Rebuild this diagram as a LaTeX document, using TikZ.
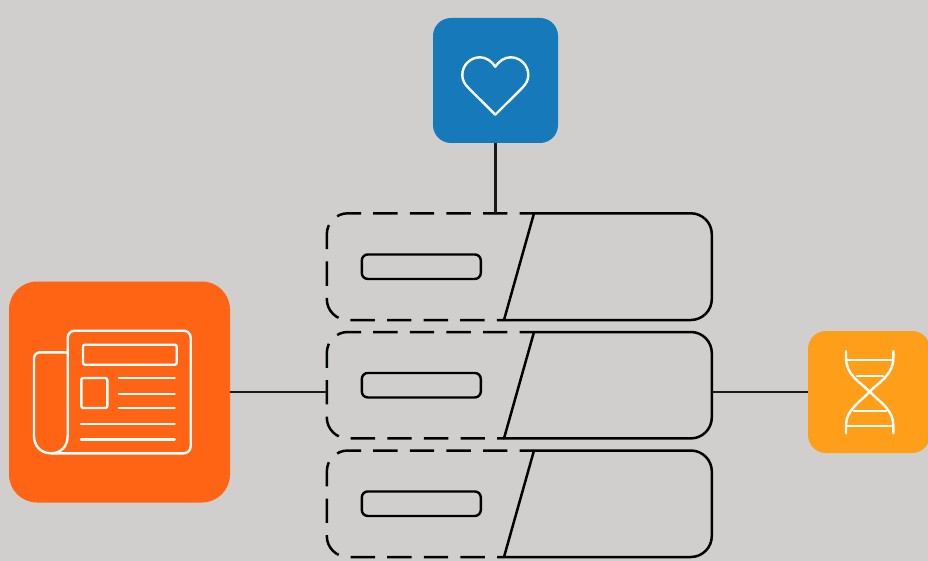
\documentclass[tikz,border=0pt]{standalone}
\usepackage{xcolor}
\definecolor{canvasgray}{HTML}{D0CFCD}
\definecolor{heartblue}{HTML}{1579BA}
\definecolor{newsorange}{HTML}{FF6314}
\definecolor{dnaamber}{HTML}{FF9E18}
\begin{document}
\begin{tikzpicture}[x=1pt,y=-1pt]
        \tikzset{iconbox/.style = {shape=rectangle,inner sep=0pt,outer sep=0pt}}
        \tikzset{unit/.style = {shape=rectangle,inner sep=0pt,outer sep=0pt,minimum width=385pt,minimum height=107pt}}
        \tikzset{slot/.style = {shape=rectangle,draw,rounded corners=6pt,line width=2.4pt,inner sep=0pt,outer sep=0pt,minimum width=119pt,minimum height=24.5pt}}
        \tikzset{edge/.style = {line width=2.4pt,draw=black!90}}
        \tikzset{partsolid/.style = {line width=2.5pt,line cap=round}}
        \tikzset{partdashed/.style = {line width=2.5pt,dash pattern=on 24.4pt off 12.2pt,dash phase=10pt}}
        \tikzset{icon/.style = {line width=2.4pt,draw=white,line join=round,line cap=round}}
        \fill[canvasgray] (0,0) rectangle (928,561);
        \useasboundingbox (0,0) rectangle (928,561);
        % boxes
        \node[iconbox,fill=heartblue,rounded corners=18pt,minimum size=125pt] (heartbox) at (495.5,80.5) {};
        \node[iconbox,fill=newsorange,rounded corners=28pt,minimum size=221pt] (newsbox) at (119.5,392) {};
        \node[iconbox,fill=dnaamber,rounded corners=18pt,minimum size=122pt] (dnabox) at (869,392) {};
        % units
        \node[unit] (unit1) at (519.5,266.7) {};
        \node[unit] (unit2) at (519.5,385.2) {};
        \node[unit] (unit3) at (519.5,503.7) {};
        \node[slot] (slot1) at (421.3,266.7) {};
        \node[slot] (slot2) at (421.3,385.2) {};
        \node[slot] (slot3) at (421.3,503.7) {};
        % unit outlines
        \draw[partdashed] (534,213.3) [rounded corners=21pt] -- (326.8,213.3) -- (326.8,320) -- (504,320);
        \draw[partsolid] (534,213.3) -- (504,320) (504,320) [rounded corners=21pt] -- (711.8,320) -- (711.8,213.3) -- (534,213.3);
        \draw[partdashed] (534,332) [rounded corners=21pt] -- (326.8,332) -- (326.8,438.4) -- (504,438.4);
        \draw[partsolid] (534,332) -- (504,438.4) (504,438.4) [rounded corners=21pt] -- (711.8,438.4) -- (711.8,332) -- (534,332);
        \draw[partdashed] (534,450.5) [rounded corners=21pt] -- (326.8,450.5) -- (326.8,557) -- (504,557);
        \draw[partsolid] (534,450.5) -- (504,557) (504,557) [rounded corners=21pt] -- (711.8,557) -- (711.8,450.5) -- (534,450.5);
        % edges
        \draw[edge] (heartbox.south) to (heartbox.south |- unit1.north);
        \draw[edge] (newsbox.east) to (newsbox.east -| unit2.west);
        \draw[edge] (dnabox.west) to (dnabox.west -| unit2.east);
        % heart
        \draw[icon] (495.3,114.7) -- (468.5,88) .. controls (464.5,84) and (462.3,80) .. (462.3,75)
          .. controls (462.3,65) and (470.5,57.3) .. (480,57.3) .. controls (486,57.3) and (491.5,61) .. (495.3,66.7)
          .. controls (499.1,61) and (504.6,57.3) .. (510.6,57.3) .. controls (520.1,57.3) and (528.3,65) .. (528.3,75)
          .. controls (528.3,80) and (526.1,84) .. (522.1,88) -- cycle;
        % newspaper
        \draw[icon] (51,453.3) [rounded corners=7pt] -- (190.7,453.3) -- (190.7,330.7) -- (67.7,330.7) [sharp corners] -- (67.7,436);
        \draw[icon] (67.7,352.3) [rounded corners=6pt] -- (34,352.3) -- (34,380) [sharp corners] -- (34,436) .. controls (34,446) and (41,453.3) .. (51,453.3) .. controls (61,453.3) and (67.7,446) .. (67.7,436);
        \draw[icon,rounded corners=2pt] (83,344.7) rectangle (176.7,364.7);
        \draw[icon,rounded corners=2pt] (81.3,378) rectangle (107.3,408);
        \draw[icon] (118.7,378) -- (174.7,378);
        \draw[icon] (118.7,394) -- (174.7,394);
        \draw[icon] (118.7,407.7) -- (174.7,407.7);
        \draw[icon] (81,423.7) -- (174.7,423.7);
        \draw[icon] (81,439.3) -- (174.7,439.3);
        % dna
        \draw[icon] (846,351) -- (846,358) .. controls (846,375) and (860,382) .. (869.7,391.7) .. controls (880,402) and (893.3,410) .. (893.3,425) -- (893.3,433.3);
        \draw[icon] (893.3,351) -- (893.3,358) .. controls (893.3,375) and (879,382) .. (869.7,391.7) .. controls (860,402) and (846,410) .. (846,425) -- (846,433.3);
        \draw[icon] (846,360) -- (893.3,360);
        \draw[icon] (857,375.7) -- (883,375.7);
        \draw[icon] (854,410.7) -- (886,410.7);
        \draw[icon] (846,426) -- (893.3,426);
\end{tikzpicture}
\end{document}
